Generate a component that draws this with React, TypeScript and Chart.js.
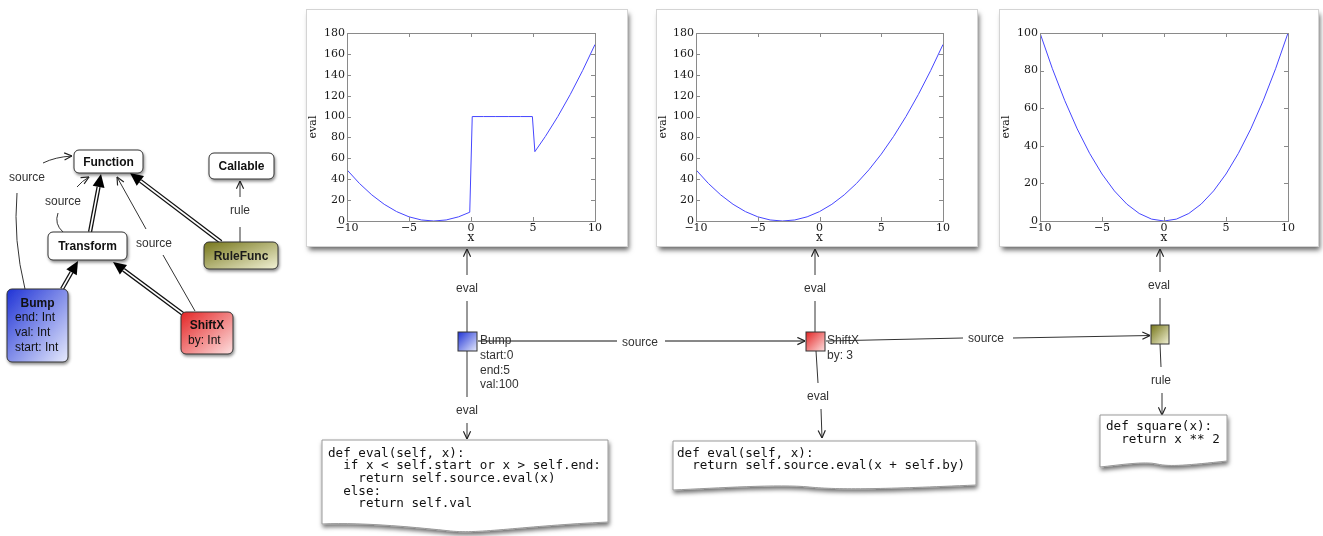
import React, { useEffect, useRef } from "react";
import { Chart, registerables } from "chart.js";
Chart.register(...registerables);

// ---- data ----
const bumpX = [-10, -9, -8, -7, -6, -5, -4, -3, -2, -1, -0.1, 0.1, 1, 2, 3, 4, 4.95, 5.15, 6, 7, 8, 9, 10];
const bumpEval = [49, 36, 25, 16, 9, 4, 1, 0, 1, 4, 8.4, 100, 100, 100, 100, 100, 100, 66.4, 81, 100, 121, 144, 169];

const shiftXs = [-10, -9, -8, -7, -6, -5, -4, -3, -2, -1, 0, 1, 2, 3, 4, 5, 6, 7, 8, 9, 10];
const shiftEval = [49, 36, 25, 16, 9, 4, 1, 0, 1, 4, 9, 16, 25, 36, 49, 64, 81, 100, 121, 144, 169];

const squareXs = [-10, -9, -8, -7, -6, -5, -4, -3, -2, -1, 0, 1, 2, 3, 4, 5, 6, 7, 8, 9, 10];
const squareEval = [100, 81, 64, 49, 36, 25, 16, 9, 4, 1, 0, 1, 4, 9, 16, 25, 36, 49, 64, 81, 100];

const xRange = [-10, 10];
const xStep = 5;

const fmt = (v: number) => (v < 0 ? "\u2212" + Math.abs(v) : String(v));

const boxPlugin = {
  id: "mplBox",
  afterDatasetsDraw(chart: any) {
    const { ctx, chartArea } = chart;
    const { left, right, top, bottom } = chartArea;
    ctx.save();
    ctx.strokeStyle = "#8a8a8a";
    ctx.lineWidth = 1;
    ctx.strokeRect(Math.round(left) + 0.5, Math.round(top) + 0.5, Math.round(right - left), Math.round(bottom - top));
    const tl = 4;
    ctx.beginPath();
    chart.scales.x.ticks.forEach((t: any) => {
      const px = Math.round(chart.scales.x.getPixelForValue(t.value)) + 0.5;
      ctx.moveTo(px, bottom);
      ctx.lineTo(px, bottom - tl);
      ctx.moveTo(px, top);
      ctx.lineTo(px, top + tl);
    });
    chart.scales.y.ticks.forEach((t: any) => {
      const py = Math.round(chart.scales.y.getPixelForValue(t.value)) + 0.5;
      ctx.moveTo(left, py);
      ctx.lineTo(left + tl, py);
      ctx.moveTo(right, py);
      ctx.lineTo(right - tl, py);
    });
    ctx.stroke();
    ctx.restore();
  },
};

type PlotProps = {
  left: number;
  width: number;
  plotLeft: number;
  plotRight: number;
  xs: number[];
  ys: number[];
  yMax: number;
  yStep: number;
};

const FRAME_TOP = 10;
const FRAME_H = 236;

function PlotFrame({ left, width, plotLeft, plotRight, xs, ys, yMax, yStep }: PlotProps) {
  const ref = useRef<HTMLCanvasElement>(null);
  useEffect(() => {
    if (!ref.current) return;
    const tickFont = { family: "'DejaVu Serif', serif", size: 11 };
    const chart = new Chart(ref.current, {
      type: "line",
      data: {
        datasets: [
          {
            data: xs.map((x, i) => ({ x, y: ys[i] })),
            borderColor: "rgb(70,70,255)",
            borderWidth: 1,
            pointRadius: 0,
            tension: 0,
            fill: false,
          } as any,
        ],
      },
      options: {
        responsive: false,
        animation: false,
        layout: { padding: { top: 23, right: plotRight, left: 0, bottom: 0 } },
        plugins: { legend: { display: false }, tooltip: { enabled: false } },
        scales: {
          x: {
            type: "linear",
            min: xRange[0],
            max: xRange[1],
            grid: { display: false, drawTicks: false },
            border: { display: false },
            ticks: {
              stepSize: xStep,
              padding: 1,
              maxRotation: 0,
              autoSkip: false,
              font: tickFont,
              color: "#1a1a1a",
              callback: (v: any) => fmt(Number(v)),
            },
            title: {
              display: true,
              text: "x",
              color: "#1a1a1a",
              font: { family: "'DejaVu Serif', serif", size: 12 },
              padding: { top: 0, bottom: 1 },
            },
            afterFit: (s: any) => {
              s.height = 25;
            },
          },
          y: {
            type: "linear",
            min: 0,
            max: yMax,
            grid: { display: false, drawTicks: false },
            border: { display: false },
            ticks: {
              stepSize: yStep,
              padding: 2,
              font: tickFont,
              color: "#1a1a1a",
              callback: (v: any) => fmt(Number(v)),
            },
            title: {
              display: true,
              text: "eval",
              color: "#1a1a1a",
              font: { family: "'DejaVu Serif', serif", size: 11 },
              padding: { top: 0, bottom: 0 },
            },
            afterFit: (s: any) => {
              s.width = plotLeft;
            },
          },
        },
      } as any,
      plugins: [boxPlugin],
    });
    return () => chart.destroy();
  }, []);
  return (
    <div
      style={{
        position: "absolute",
        left,
        top: FRAME_TOP,
        width,
        height: FRAME_H,
        background: "#fff",
        boxShadow: "0 0 0 1px #d4d4d4, 2px 4px 5px rgba(0,0,0,0.6)",
      }}
    >
      <canvas ref={ref} width={width} height={FRAME_H} style={{ display: "block", width, height: FRAME_H }} />
    </div>
  );
}

const SANS = "'Liberation Sans', Arial, sans-serif";
const MONO = "'DejaVu Sans Mono', monospace";

function Inherit({ x1, y1, x2, y2 }: { x1: number; y1: number; x2: number; y2: number }) {
  const dx = x2 - x1;
  const dy = y2 - y1;
  const len = Math.hypot(dx, dy);
  const ux = dx / len;
  const uy = dy / len;
  const L = 13;
  const W = 6;
  const bx = x2 - ux * L;
  const by = y2 - uy * L;
  const nx = -uy;
  const ny = ux;
  const pts = `${x2},${y2} ${bx + nx * W},${by + ny * W} ${bx - nx * W},${by - ny * W}`;
  return (
    <g>
      <line x1={x1} y1={y1} x2={bx} y2={by} stroke="#111" strokeWidth={4.2} />
      <line x1={x1} y1={y1} x2={bx + ux} y2={by + uy} stroke="#fff" strokeWidth={1.6} />
      <polygon points={pts} fill="#000" />
    </g>
  );
}

function Label({ x, y, t, anchor = "middle", bold = false, size = 12, color = "#333" }: any) {
  return (
    <text
      x={x}
      y={y}
      textAnchor={anchor}
      dominantBaseline="central"
      fontFamily={SANS}
      fontSize={size}
      fontWeight={bold ? "bold" : "normal"}
      fill={color}
    >
      {t}
    </text>
  );
}

function CodeBox({ x, y, w, bl, bm, br, lines, tx, ty, lh }: any) {
  const x2 = x + w;
  const d = `M${x},${y} H${x2} V${br} C${x2 - w * 0.3},${br + 4} ${x + w * 0.55},${bm + 3} ${x + w * 0.45},${bm} S${x + w * 0.15},${bl - 2} ${x},${bl} Z`;
  return (
    <g>
      <path d={d} fill="#fff" stroke="#9a9a9a" strokeWidth={1} filter="url(#codeShadow)" />
      {lines.map((l: string, i: number) => (
        <text
          key={i}
          x={tx}
          y={ty + i * lh}
          dominantBaseline="central"
          fontFamily={MONO}
          fontSize={12.6}
          fill="#111"
          xmlSpace="preserve"
          style={{ whiteSpace: "pre" }}
        >
          {l}
        </text>
      ))}
    </g>
  );
}

function Diagram() {
  const ln = { stroke: "#333", strokeWidth: 1, fill: "none" } as any;
  const arr = { ...ln, markerEnd: "url(#oa)" };
  return (
    <svg
      width={1323}
      height={536}
      style={{ position: "absolute", left: 0, top: 0, pointerEvents: "none" }}
    >
      <defs>
        <linearGradient id="gBlue" x1="0" y1="0" x2="1" y2="1">
          <stop offset="0" stopColor="#1f33d6" />
          <stop offset="1" stopColor="#e6eafc" />
        </linearGradient>
        <linearGradient id="gRed" x1="0" y1="0" x2="1" y2="1">
          <stop offset="0" stopColor="#e42424" />
          <stop offset="1" stopColor="#fde0e0" />
        </linearGradient>
        <linearGradient id="gOlive" x1="0" y1="0" x2="1" y2="1">
          <stop offset="0" stopColor="#76761a" />
          <stop offset="1" stopColor="#f2f2d6" />
        </linearGradient>
        <marker id="oa" viewBox="0 0 10 10" refX="9.5" refY="5" markerWidth="9" markerHeight="9" markerUnits="userSpaceOnUse" orient="auto">
          <path d="M1,1 L9.5,5 L1,9" fill="none" stroke="#222" strokeWidth={1.3} />
        </marker>
        <filter id="boxShadow" x="-20%" y="-20%" width="150%" height="160%">
          <feDropShadow dx="1" dy="2" stdDeviation="1.5" floodColor="#000" floodOpacity="0.45" />
        </filter>
        <filter id="codeShadow" x="-5%" y="-10%" width="115%" height="140%">
          <feDropShadow dx="1" dy="3" stdDeviation="2" floodColor="#000" floodOpacity="0.55" />
        </filter>
      </defs>

      {/* ---------- UML class diagram ---------- */}
      <path d="M25,289 Q13,240 17,193" {...ln} />
      <path d="M43,163 Q55,157 72,156" {...arr} />
      <Label x={27} y={177} t="source" />
      <path d="M63,232 Q54,224 58,213" {...ln} />
      <path d="M77,187 Q82,181 89,177" {...arr} />
      <Label x={63} y={201} t="source" />
      <path d="M195,311 L163,255" {...ln} />
      <path d="M146,229 L117,177" {...arr} />
      <Label x={154} y={243} t="source" />
      <path d="M240,242 L240,227" {...ln} />
      <path d="M240,197 L240,181" {...arr} />
      <Label x={240} y={210} t="rule" />

      <Inherit x1={90} y1={232} x2={101} y2={174} />
      <Inherit x1={221} y1={242} x2={130} y2={173} />
      <Inherit x1={62} y1={289} x2={78} y2={261} />
      <Inherit x1={183} y1={314} x2={113} y2={262} />

      <rect x={74} y={150} width={69} height={23} rx={5} fill="#fff" stroke="#333" filter="url(#boxShadow)" />
      <Label x={108.5} y={161.5} t="Function" bold color="#111" />
      <rect x={209} y={153} width={65} height={26} rx={5} fill="#fff" stroke="#333" filter="url(#boxShadow)" />
      <Label x={241.5} y={166} t="Callable" bold color="#111" />
      <rect x={48} y={232} width={79} height={28} rx={5} fill="#fff" stroke="#333" filter="url(#boxShadow)" />
      <Label x={87.5} y={246} t="Transform" bold color="#111" />
      <rect x={204} y={242} width={74} height={27} rx={5} fill="url(#gOlive)" stroke="#333" filter="url(#boxShadow)" />
      <Label x={241} y={255.5} t="RuleFunc" bold color="#1a1a1a" />
      <rect x={7} y={289} width={61} height={73} rx={5} fill="url(#gBlue)" stroke="#333" filter="url(#boxShadow)" />
      <Label x={37.5} y={303} t="Bump" bold color="#111" />
      <Label x={15} y={317} t="end: Int" anchor="start" color="#111" />
      <Label x={15} y={332} t="val: Int" anchor="start" color="#111" />
      <Label x={15} y={347} t="start: Int" anchor="start" color="#111" />
      <rect x={181} y={312} width={52} height={42} rx={5} fill="url(#gRed)" stroke="#333" filter="url(#boxShadow)" />
      <Label x={207} y={325} t="ShiftX" bold color="#111" />
      <Label x={188} y={340} t="by: Int" anchor="start" color="#111" />

      {/* ---------- object diagram ---------- */}
      <path d="M467,275 L467,249" {...arr} />
      <Label x={467} y={288} t="eval" />
      <path d="M467,301 L467,397" {...ln} />
      <Label x={467} y={410} t="eval" />
      <path d="M467,423 L467,439" {...arr} />
      <path d="M478,341 L617,341" stroke="#111" strokeWidth={1} />
      <Label x={640} y={342} t="source" />
      <path d="M665,341 L805,341" {...arr} stroke="#111" />
      <rect x={458} y={332} width={19} height={19} fill="url(#gBlue)" stroke="#333" />
      <Label x={480} y={340} t="Bump" anchor="start" />
      <Label x={480} y={355} t="start:0" anchor="start" />
      <Label x={480} y={370} t="end:5" anchor="start" />
      <Label x={480} y={384} t="val:100" anchor="start" />

      <path d="M815,275 L815,249" {...arr} />
      <Label x={815} y={288} t="eval" />
      <path d="M815,301 L815,332" {...ln} />
      <path d="M816,351 L818,383" {...ln} />
      <Label x={818} y={396} t="eval" />
      <path d="M821,409 L822,438" {...arr} />
      <path d="M826,341 L963,338" stroke="#333" strokeWidth={1} />
      <Label x={986} y={338} t="source" />
      <path d="M1013,338 L1150,335.5" {...arr} />
      <rect x={806} y={332} width={19} height={19} fill="url(#gRed)" stroke="#333" />
      <Label x={827} y={340} t="ShiftX" anchor="start" />
      <Label x={827} y={355} t="by: 3" anchor="start" />

      <path d="M1160,272 L1160,249" {...arr} />
      <Label x={1159} y={285} t="eval" />
      <path d="M1160,298 L1160,325" {...ln} />
      <path d="M1160,344 L1161,367" {...ln} />
      <Label x={1161} y={380} t="rule" />
      <path d="M1162,393 L1162,415" {...arr} />
      <rect x={1151} y={325} width={18} height={19} fill="url(#gOlive)" stroke="#333" />

      <CodeBox
        x={322}
        y={440}
        w={286}
        bl={524}
        bm={531}
        br={522}
        tx={328}
        ty={452}
        lh={12.7}
        lines={[
          "def eval(self, x):",
          "  if x < self.start or x > self.end:",
          "    return self.source.eval(x)",
          "  else:",
          "    return self.val",
        ]}
      />
      <CodeBox
        x={673}
        y={441}
        w={303}
        bl={490}
        bm={487}
        br={485}
        tx={677}
        ty={452}
        lh={12.7}
        lines={["def eval(self, x):", "  return self.source.eval(x + self.by)"]}
      />
      <CodeBox
        x={1100}
        y={415}
        w={127}
        bl={467}
        bm={464}
        br={461}
        tx={1106}
        ty={425}
        lh={13}
        lines={["def square(x):", "  return x ** 2"]}
      />
    </svg>
  );
}

export default function App() {
  return (
    <div
      style={{
        position: "absolute",
        left: 0,
        top: 0,
        width: 1323,
        height: 536,
        background: "#fff",
        overflow: "hidden",
      }}
    >
      <PlotFrame left={307} width={320} plotLeft={40} plotRight={32} xs={bumpX} ys={bumpEval} yMax={180} yStep={20} />
      <PlotFrame left={657} width={320} plotLeft={39} plotRight={34} xs={shiftXs} ys={shiftEval} yMax={180} yStep={20} />
      <PlotFrame left={1000} width={318} plotLeft={40} plotRight={30} xs={squareXs} ys={squareEval} yMax={100} yStep={20} />
      <Diagram />
    </div>
  );
}
